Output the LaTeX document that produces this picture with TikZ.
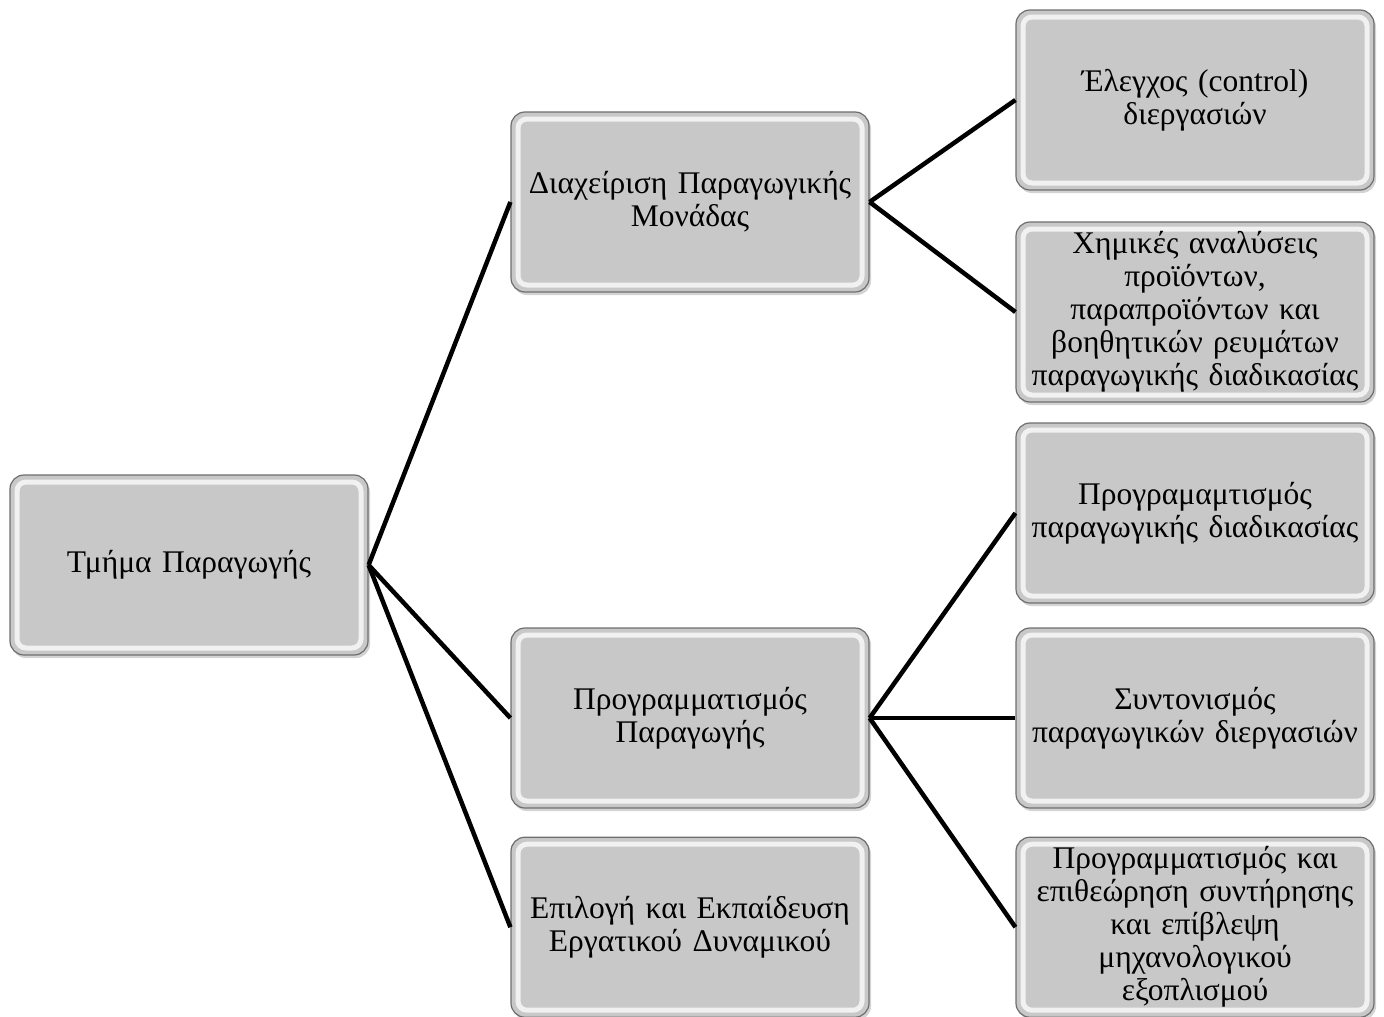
\documentclass[tikz,border=0pt]{standalone}
\usepackage{fontspec}
\setmainfont{Liberation Serif}
\usepackage{xcolor}
\definecolor{boxgray}{HTML}{C8C8C8}
\definecolor{boxedge}{HTML}{6E6E6E}
\definecolor{linkblack}{HTML}{000000}
\usepackage{tikz}
\usetikzlibrary{
  positioning,
  shadows,
  calc,
}

\begin{document}
\begin{tikzpicture}[
  x=1pt, y=-1pt,
  node distance=28pt and 145pt,
  unit/.style={
    draw=boxedge,
    line width=1.2pt,
    fill=boxgray,
    rounded corners=14pt,
    minimum width=358pt,
    minimum height=180pt,
    text width=354pt,
    align=center,
    inner sep=0pt,
    font=\fontsize{31.5}{33}\selectfont,
    drop shadow={shadow xshift=2pt, shadow yshift=-3pt, opacity=0.35},
    path picture={
      \draw[white, opacity=0.75, line width=5pt, rounded corners=9pt]
        ([shift={(7pt,-7pt)}]path picture bounding box.north west)
        rectangle ([shift={(-7pt,7pt)}]path picture bounding box.south east);
    },
  },
  link/.style={
    draw=linkblack,
    line width=4.5pt,
  },
]

\useasboundingbox (0,0) rectangle (1384,1017);

% =============================================================================
% Left: department
% =============================================================================
\node[unit] (dept) at (189,565) {Τμήμα Παραγωγής};

% =============================================================================
% Middle column
% =============================================================================
\node[unit] (plant) at (690,202) {Διαχείριση Παραγωγικής\\Μονάδας};
\node[unit] (sched) at (690,718) {Προγραμματισμός\\Παραγωγής};
\node[unit, below=of sched] (staff) {Επιλογή και Εκπαίδευση\\Εργατικού Δυναμικού};

% =============================================================================
% Right column
% =============================================================================
\node[unit] (control) at (1195,100) {Έλεγχος (control)\\διεργασιών};
\node[unit] (chem) at (1195,312) {Χημικές αναλύσεις\\προϊόντων,\\%
  παραπροϊόντων και\\βοηθητικών ρευμάτων\\παραγωγικής διαδικασίας};
\node[unit] (procplan) at (1195,513) {Προγραμαμτισμός\\παραγωγικής διαδικασίας};
\node[unit] (coord) at (1195,718) {Συντονισμός\\παραγωγικών διεργασιών};
\node[unit, below=of coord] (maint) {Προγραμματισμός και\\επιθεώρηση συντήρησης\\%
  και επίβλεψη\\μηχανολογικού\\εξοπλισμού};

% =============================================================================
% Connectors
% =============================================================================
\draw[link] (dept.east) -- (plant.west);
\draw[link] (dept.east) -- (sched.west);
\draw[link] (dept.east) -- (staff.west);

\draw[link] (plant.east) -- (control.west);
\draw[link] (plant.east) -- (chem.west);

\draw[link] (sched.east) -- (procplan.west);
\draw[link] (sched.east) -- (coord.west);
\draw[link] (sched.east) -- (maint.west);

\end{tikzpicture}
\end{document}
